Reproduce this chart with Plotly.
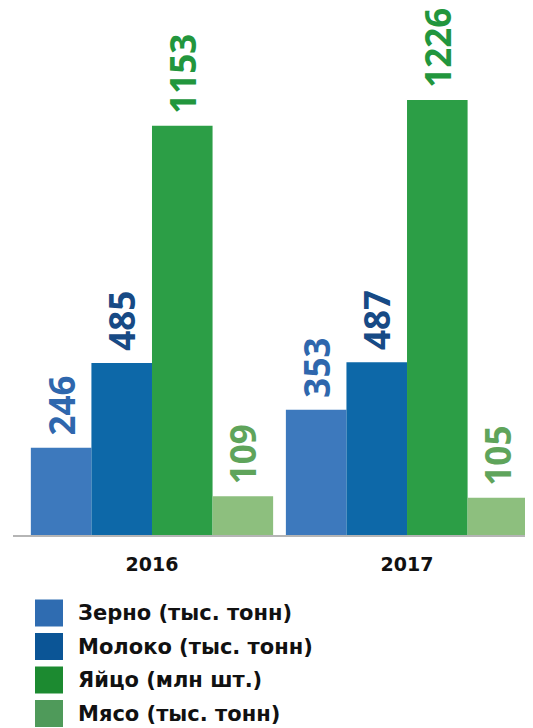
import plotly.graph_objects as go

years = ["2016", "2017"]
series_names = ["Зерно (тыс. тонн)", "Молоко (тыс. тонн)", "Яйцо (млн шт.)", "Мясо (тыс. тонн)"]
zerno = [246, 353]
moloko = [485, 487]
yaytso = [1153, 1226]
myaso = [109, 105]

values = [zerno, moloko, yaytso, myaso]
bar_colors = ["#3d79bd", "#0d68a8", "#2c9e46", "#8dbf7e"]
text_colors = ["#2f67ad", "#174a85", "#22963d", "#5fa45b"]
legend_colors = ["#2f6cb1", "#0b5596", "#1c8a30", "#4f9a5a"]

FONT = "DejaVu Sans"
LABEL_FONT = "Open Sans"

# figure pixel geometry (page adds an 8px body margin)
W, H = 525, 720
L, B = 5, 193
PW, PH = W - L, H - B


def px_x(x):
    return (x - L) / PW


def px_y(y):
    return (PH - y) / PH


fig = go.Figure()
for name, vals, bc, tc in zip(series_names, values, bar_colors, text_colors):
    fig.add_trace(go.Bar(
        x=years, y=vals, name=name,
        marker=dict(color=bc, line=dict(width=0)),
        text=["\u00a0" + str(v) for v in vals],
        textposition="outside", textangle=-90,
        textfont=dict(family=LABEL_FONT, size=35, color=tc, weight="bold"),
        cliponaxis=False, constraintext="none",
        showlegend=False,
    ))

# Custom legend (large squares) below the chart
shapes = []
annotations = []
for i, (name, lc) in enumerate(zip(series_names, legend_colors)):
    yc = 605 + i * 33.5
    shapes.append(dict(type="rect", xref="paper", yref="paper",
                       x0=px_x(27), x1=px_x(55),
                       y0=px_y(yc + 13.5), y1=px_y(yc - 13.5),
                       fillcolor=lc, line=dict(width=0)))
    annotations.append(dict(xref="paper", yref="paper", x=px_x(68), y=px_y(yc),
                            xanchor="left", yanchor="middle", showarrow=False,
                            text=name,
                            font=dict(family=FONT, size=21, color="#111111", weight="bold")))

fig.update_layout(
    width=W, height=H,
    margin=dict(l=L, r=0, t=0, b=B),
    paper_bgcolor="white", plot_bgcolor="white",
    barmode="group", bargap=0.05, bargroupgap=0,
    xaxis=dict(range=[-0.545, 1.494], showline=True, linecolor="#b5b5b5", linewidth=2,
               showgrid=False, ticks="", ticklabelstandoff=11,
               tickfont=dict(family=FONT, size=19, color="#111111", weight="bold")),
    yaxis=dict(range=[0, 1485], visible=False, showgrid=False),
    shapes=shapes, annotations=annotations,
)

fig.write_html("out.html")
